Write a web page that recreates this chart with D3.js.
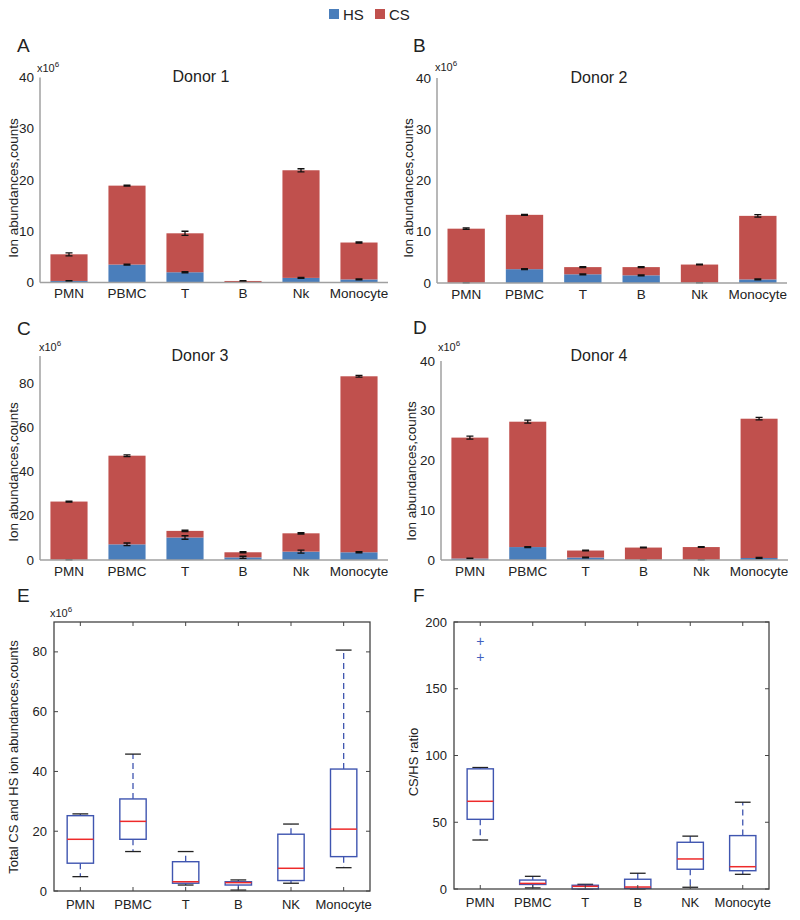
<!DOCTYPE html>
<html>
<head>
<meta charset="utf-8">
<script src="https://cdn.jsdelivr.net/npm/d3@7"></script>
<style>
  body { margin: 0; background: #fff; }
  svg { font-family: "Liberation Sans", Arial, sans-serif; }
</style>
</head>
<body>
<script>
// categories
const cells = ["PMN", "PBMC", "T", "B", "Nk", "Monocyte"];
const boxCells = ["PMN", "PBMC", "T", "B", "NK", "Monocyte"];

// stacked bars, x10^6 counts (HS bottom, CS on top)
const donor1HS = [0.3, 3.5, 2.0, 0.05, 0.9, 0.6];
const donor1CS = [5.2, 15.4, 7.6, 0.25, 21.0, 7.2];
const donor1HSErr = [0.05, 0.1, 0.1, 0.02, 0.1, 0.08];
const donor1Err = [0.3, 0.1, 0.4, 0.05, 0.3, 0.1];

const donor2HS = [0.05, 2.7, 1.7, 1.5, 0.05, 0.7];
const donor2CS = [10.55, 10.6, 1.4, 1.6, 3.55, 12.4];
const donor2HSErr = [0.02, 0.1, 0.1, 0.1, 0.02, 0.08];
const donor2Err = [0.15, 0.1, 0.1, 0.1, 0.08, 0.25];

const donor3HS = [0.1, 7.1, 10.2, 1.2, 3.8, 3.5];
const donor3CS = [26.4, 40.2, 3.0, 2.3, 8.3, 79.8];
const donor3HSErr = [0.05, 0.6, 0.8, 0.5, 0.7, 0.3];
const donor3Err = [0.2, 0.4, 0.3, 0.3, 0.3, 0.4];

const donor4HS = [0.3, 2.6, 0.5, 0.05, 0.05, 0.4];
const donor4CS = [24.3, 25.2, 1.4, 2.45, 2.55, 28.0];
const donor4HSErr = [0.05, 0.1, 0.05, 0.02, 0.02, 0.1];
const donor4Err = [0.3, 0.3, 0.08, 0.08, 0.08, 0.25];

// box plots: [low whisker, q1, median, q3, high whisker]
const totalStats = [
  [4.8, 9.3, 17.3, 25.2, 25.8],
  [13.2, 17.3, 23.3, 30.8, 45.8],
  [2.0, 2.6, 3.1, 9.8, 13.2],
  [0.3, 2.0, 2.8, 3.1, 3.7],
  [2.6, 3.5, 7.6, 19.0, 22.4],
  [7.8, 11.5, 20.7, 40.8, 80.6]
];
const totalOutliers = [[], [], [], [], [], []];

const ratioStats = [
  [36.7, 52.2, 65.7, 90.0, 91.0],
  [0.8, 3.4, 4.2, 6.7, 9.5],
  [0, 0, 2.0, 2.8, 3.5],
  [0, 0.5, 1.5, 7.3, 11.8],
  [1.3, 14.8, 22.5, 35.0, 39.6],
  [11.0, 13.7, 16.7, 40.0, 65.0]
];
const ratioOutliers = [[173.5, 186], [], [], [], [], []];

const blue = "#4a7ebb", red = "#c0504d";

const svg = d3.select("body").append("svg")
    .attr("width", 800)
    .attr("height", 920);

// legend
const legend = svg.append("g");
[["HS", blue, 329], ["CS", red, 375]].forEach(function (d) {
  legend.append("rect").attr("x", d[2]).attr("y", 9).attr("width", 10).attr("height", 10).attr("fill", d[1]);
  legend.append("text").attr("x", d[2] + 14).attr("y", 19.5).attr("font-size", 15).attr("fill", "#222").text(d[0]);
});

function letter(t, x, y) {
  svg.append("text").attr("x", x).attr("y", y).attr("font-size", 19).attr("fill", "#222").text(t);
}

function x10(x, y) {
  const t = svg.append("text").attr("x", x).attr("y", y).attr("font-size", 11).attr("fill", "#222");
  t.append("tspan").text("x10");
  t.append("tspan").attr("dy", -5).attr("font-size", 8).text("6");
}

function yLabel(t, x, y, size) {
  svg.append("text")
      .attr("transform", "translate(" + x + "," + y + ") rotate(-90)")
      .attr("text-anchor", "middle")
      .attr("dominant-baseline", "central")
      .attr("font-size", size)
      .attr("fill", "#222")
      .text(t);
}

function barPanel(p) {
  const g = svg.append("g");
  const x = d3.scaleBand().domain(cells).range([p.x0, p.x1]).paddingInner(0.36).paddingOuter(0.18);
  const y = d3.scaleLinear().domain([0, p.max]).range([p.y0, p.yTop]);

  const rows = cells.map(function (c, i) {
    return { cell: c, hs: p.hs[i], cs: p.cs[i], hsErr: p.hsErr[i], err: p.err[i] };
  });

  g.selectAll("rect.hs").data(rows).enter().append("rect")
      .attr("x", d => x(d.cell)).attr("width", x.bandwidth())
      .attr("y", d => y(d.hs)).attr("height", d => y(0) - y(d.hs))
      .attr("fill", blue);
  g.selectAll("rect.cs").data(rows).enter().append("rect")
      .attr("x", d => x(d.cell)).attr("width", x.bandwidth())
      .attr("y", d => y(d.hs + d.cs)).attr("height", d => y(d.hs) - y(d.hs + d.cs))
      .attr("fill", red);

  // error bars
  function errBar(val, e) {
    g.selectAll(null).data(rows).enter().append("path")
        .attr("d", function (d) {
          const cx = x(d.cell) + x.bandwidth() / 2;
          const a = y(val(d) + e(d)), b = y(val(d) - e(d));
          return "M" + (cx - 3.5) + "," + a + "H" + (cx + 3.5) +
                 "M" + cx + "," + a + "V" + b +
                 "M" + (cx - 3.5) + "," + b + "H" + (cx + 3.5);
        })
        .attr("stroke", "#111").attr("stroke-width", 1.3).attr("fill", "none");
  }
  errBar(d => d.hs, d => d.hsErr);
  errBar(d => d.hs + d.cs, d => d.err);

  // axes
  g.append("line").attr("x1", p.x0).attr("x2", p.x0).attr("y1", y(0)).attr("y2", p.yTop)
      .attr("stroke", "#a0a0a0").attr("stroke-width", 1.5);
  g.append("line").attr("x1", p.x0).attr("x2", p.x1).attr("y1", y(0)).attr("y2", y(0))
      .attr("stroke", "#a0a0a0").attr("stroke-width", 1.5);

  g.selectAll("text.yt").data(p.ticks).enter().append("text")
      .attr("x", p.x0 - 6).attr("y", d => y(d))
      .attr("text-anchor", "end").attr("dominant-baseline", "central")
      .attr("font-size", 13.5).attr("fill", "#222")
      .text(d => d);
  g.selectAll("text.xt").data(cells).enter().append("text")
      .attr("x", d => x(d) + x.bandwidth() / 2).attr("y", y(0) + 15.5)
      .attr("text-anchor", "middle").attr("font-size", 13.5).attr("fill", "#222")
      .text(d => d);

  g.append("text").attr("x", p.titleX).attr("y", p.titleY).attr("text-anchor", "middle")
      .attr("font-size", 16).attr("fill", "#222").text(p.title);
}

function boxPanel(p) {
  const g = svg.append("g");
  const x = d3.scalePoint().domain(boxCells).range([p.x0, p.x1]).padding(0.5);
  const y = d3.scaleLinear().domain([0, p.max]).range([p.y0, p.yTop]);
  const step = x.step(), bw = step * 0.5, cw = step * 0.3;

  const rows = boxCells.map(function (c, i) {
    return { cell: c, s: p.stats[i], out: p.outliers[i] };
  });

  const b = g.selectAll("g.box").data(rows).enter().append("g")
      .attr("transform", d => "translate(" + x(d.cell) + ",0)");
  b.append("line").attr("y1", d => y(d.s[3])).attr("y2", d => y(d.s[4]))
      .attr("stroke", "#3f55b0").attr("stroke-width", 1.3).attr("stroke-dasharray", "6,4");
  b.append("line").attr("y1", d => y(d.s[1])).attr("y2", d => y(d.s[0]))
      .attr("stroke", "#3f55b0").attr("stroke-width", 1.3).attr("stroke-dasharray", "6,4");
  b.append("line").attr("x1", -cw / 2).attr("x2", cw / 2).attr("y1", d => y(d.s[4])).attr("y2", d => y(d.s[4]))
      .attr("stroke", "#222").attr("stroke-width", 1.3);
  b.append("line").attr("x1", -cw / 2).attr("x2", cw / 2).attr("y1", d => y(d.s[0])).attr("y2", d => y(d.s[0]))
      .attr("stroke", "#222").attr("stroke-width", 1.3);
  b.append("rect").attr("x", -bw / 2).attr("width", bw)
      .attr("y", d => y(d.s[3])).attr("height", d => Math.max(0.5, y(d.s[1]) - y(d.s[3])))
      .attr("fill", "#fff").attr("stroke", "#3f55b0").attr("stroke-width", 1.4);
  b.append("line").attr("x1", -bw / 2).attr("x2", bw / 2).attr("y1", d => y(d.s[2])).attr("y2", d => y(d.s[2]))
      .attr("stroke", "#ee2a2a").attr("stroke-width", 1.5);
  b.selectAll("text.out").data(d => d.out).enter().append("text")
      .attr("y", d => y(d)).attr("text-anchor", "middle").attr("dominant-baseline", "central")
      .attr("font-size", 14).attr("fill", "#4060c0").text("+");

  // frame with inward ticks
  g.append("rect").attr("x", p.x0).attr("y", p.yTop).attr("width", p.x1 - p.x0).attr("height", p.y0 - p.yTop)
      .attr("fill", "none").attr("stroke", "#444").attr("stroke-width", 1.3);
  const tk = 4;
  g.selectAll(null).data(p.ticks).enter().append("path")
      .attr("d", d => "M" + p.x0 + "," + y(d) + "h" + tk + "M" + p.x1 + "," + y(d) + "h" + (-tk))
      .attr("stroke", "#444").attr("stroke-width", 1);
  g.selectAll(null).data(boxCells).enter().append("path")
      .attr("d", d => "M" + x(d) + "," + p.y0 + "v" + (-tk) + "M" + x(d) + "," + p.yTop + "v" + tk)
      .attr("stroke", "#444").attr("stroke-width", 1);

  g.selectAll("text.yt").data(p.ticks).enter().append("text")
      .attr("x", p.x0 - 7).attr("y", d => y(d))
      .attr("text-anchor", "end").attr("dominant-baseline", "central")
      .attr("font-size", 13).attr("fill", "#222").text(d => d);
  g.selectAll("text.xt").data(boxCells).enter().append("text")
      .attr("x", d => x(d)).attr("y", p.y0 + 18)
      .attr("text-anchor", "middle").attr("font-size", 13).attr("fill", "#222").text(d => d);
}

// panels
letter("A", 17, 52);
x10(37, 72);
yLabel("Ion abundances,counts", 13, 188, 13.5);
barPanel({ title: "Donor 1", titleX: 201, titleY: 82, hs: donor1HS, cs: donor1CS, hsErr: donor1HSErr, err: donor1Err,
  x0: 40, x1: 388, y0: 282.5, yTop: 77.5, max: 40, ticks: [0, 10, 20, 30, 40] });

letter("B", 413, 52);
x10(435, 71);
yLabel("Ion abundances,counts", 408, 188, 13.5);
barPanel({ title: "Donor 2", titleX: 599, titleY: 83, hs: donor2HS, cs: donor2CS, hsErr: donor2HSErr, err: donor2Err,
  x0: 437, x1: 787, y0: 283, yTop: 78, max: 40, ticks: [0, 10, 20, 30, 40] });

letter("C", 17, 335);
x10(39, 351);
yLabel("Ion abundances,counts", 13, 472, 13.5);
barPanel({ title: "Donor 3", titleX: 200, titleY: 361, hs: donor3HS, cs: donor3CS, hsErr: donor3HSErr, err: donor3Err,
  x0: 40, x1: 388, y0: 560, yTop: 356, max: 92.5, ticks: [0, 20, 40, 60, 80] });

letter("D", 413, 334);
x10(438, 351);
yLabel("Ion abundances,counts", 411, 471, 13.5);
barPanel({ title: "Donor 4", titleX: 599, titleY: 361, hs: donor4HS, cs: donor4CS, hsErr: donor4HSErr, err: donor4Err,
  x0: 441, x1: 788, y0: 560, yTop: 361, max: 40, ticks: [0, 10, 20, 30, 40] });

letter("E", 17, 602);
x10(50, 617);
yLabel("Total CS and HS ion abundances,counts", 13, 757, 13);
boxPanel({ stats: totalStats, outliers: totalOutliers, x0: 54, x1: 370, y0: 891, yTop: 622, max: 90,
  ticks: [0, 20, 40, 60, 80] });

letter("F", 413, 602);
yLabel("CS/HS ratio", 413, 762, 13);
boxPanel({ stats: ratioStats, outliers: ratioOutliers, x0: 454, x1: 769, y0: 889, yTop: 622, max: 200,
  ticks: [0, 50, 100, 150, 200] });
</script>
</body>
</html>
